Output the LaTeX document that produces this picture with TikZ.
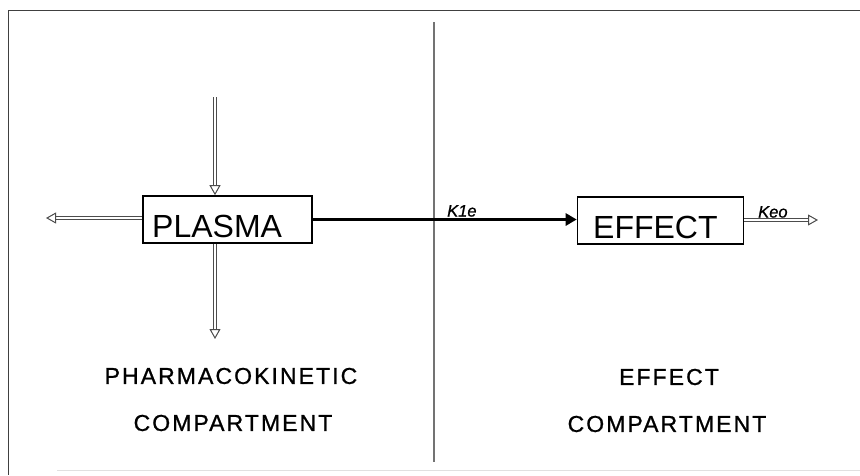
\documentclass[tikz,border=0pt]{standalone}
\usepackage{fontspec}
\setmainfont{Liberation Sans}
\usetikzlibrary{arrows.meta}
\tikzset{
  boxnode/.style={draw, line width=1.6pt, minimum width=#1, minimum height=47pt, inner sep=0pt},
  boxtext/.style={anchor=base west, inner sep=0pt, font=\fontsize{32}{32}\selectfont},
  captext/.style={inner sep=0pt, font=\fontsize{23}{23}\selectfont\addfontfeature{LetterSpace=9,FakeBold=1}},
  klabel/.style={inner sep=0pt, anchor=base west, font=\fontsize{16.5}{16.5}\selectfont\itshape\addfontfeature{FakeBold=1}},
  openarrow/.style={draw=black!70, double=white, double distance=2.4pt, line width=0.8pt,
     -{Triangle[open, length=10pt, width=11pt, line width=1pt, fill=white]}},
  mainarrow/.style={line width=3pt, -{Triangle[length=11pt, width=12pt]}},
}
\begin{document}
\begin{tikzpicture}[x=1pt,y=-1pt]
\useasboundingbox (0,0) rectangle (860,475);
% frame
\draw[line width=1pt, black!75] (860,10) -- (8,10) -- (8,475);
\draw[line width=1pt, black!12] (57,470) -- (860,470);
% divider
\draw[line width=2.6pt, black!55] (434,22) -- (434,462);
% boxes
\node[boxnode=169pt] (plasma) at (227.5,219.5) {};
\node[boxtext] (plasmatext) at (152,237) {PLASMA};
\node[boxnode=166pt] (effect) at (660.5,220.5) {};
\node[boxtext] (effecttext) at (593,238) {EFFECT};
% coordinates
\coordinate (topin) at (215,97);
\coordinate (leftout) at (46,218);
\coordinate (downout) at (215,339);
\coordinate (keoout) at (818,220);
% arrows
\draw[openarrow] (topin) -- (topin |- plasma.north);
\draw[openarrow] (plasma.west |- leftout) -- (leftout);
\draw[openarrow] (plasma.south -| downout) -- (downout);
\draw[mainarrow] (plasma.east |- 0,219.5) -- (effect.west |- 0,219.5);
\draw[openarrow] (effect.east |- keoout) -- (keoout);
% labels
\node[klabel] (k1e) at (447,216.5) {K1e};
\node[klabel] (keo) at (758,217.5) {Keo};
\node[captext] (pk1) at (231,376) {PHARMACOKINETIC};
\node[captext] (pk2) at (233,423) {COMPARTMENT};
\node[captext] (ef1) at (669,377) {EFFECT};
\node[captext] (ef2) at (667,424) {COMPARTMENT};
\end{tikzpicture}
\end{document}
